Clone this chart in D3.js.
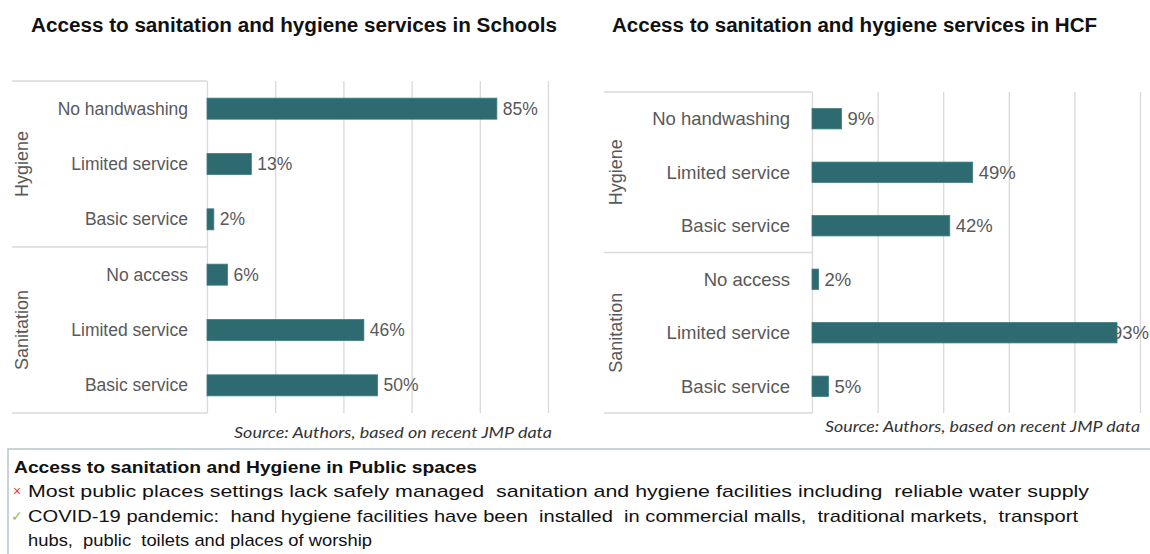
<!DOCTYPE html>
<html>
<head>
<meta charset="utf-8">
<script src="https://cdn.jsdelivr.net/npm/d3@7"></script>
<style>
  body { margin: 0; background: #fff; }
  svg { display: block; font-family: "Liberation Sans", Arial, sans-serif; }
</style>
</head>
<body>
<div id="chart"></div>
<script>
// data
const groups = ["Hygiene", "Sanitation"];
const categories = ["No handwashing", "Limited service", "Basic service", "No access", "Limited service", "Basic service"];
const categoryGroup = ["Hygiene", "Hygiene", "Hygiene", "Sanitation", "Sanitation", "Sanitation"];
const schoolsValues = [85, 13, 2, 6, 46, 50];
const hcfValues = [9, 49, 42, 2, 93, 5];
const xTicks = [0, 20, 40, 60, 80, 100];

const width = 1150, height = 554;
const barColor = "#2e6b70";
const gridColor = "#d9d9d9";
const textGray = "#595959";

const svg = d3.select("#chart").append("svg")
  .attr("width", width)
  .attr("height", height)
  .attr("viewBox", [0, 0, width, height]);

function drawChart(cfg, values) {
  const g = svg.append("g");

  const x = d3.scaleLinear([0, 100], [cfg.x0, cfg.x1]);
  const y = d3.scaleBand()
    .domain(d3.range(categories.length))
    .range([cfg.top, cfg.bottom])
    .paddingInner(0.62)
    .paddingOuter(0.31);

  // title
  g.append("text")
    .attr("x", cfg.titleX)
    .attr("y", 32)
    .attr("font-weight", "bold")
    .attr("font-size", 20)
    .attr("fill", "#111")
    .attr("textLength", cfg.titleLen)
    .attr("lengthAdjust", "spacingAndGlyphs")
    .text(cfg.title);

  // vertical gridlines
  const grid = g.append("g")
    .attr("transform", `translate(0,${cfg.bottom})`)
    .call(d3.axisBottom(x).tickValues(xTicks).tickSize(-(cfg.bottom - cfg.top)).tickFormat(""));
  grid.select(".domain").remove();
  grid.selectAll(".tick line").attr("stroke", gridColor).attr("stroke-width", 1.3);

  // multi-level category axis: group labels and separator lines
  const step = y.step();
  const gap = (step - y.bandwidth()) / 2;
  const bounds = [cfg.top];
  groups.forEach((grp, gi) => {
    const idx = categoryGroup.map((c, i) => c === grp ? i : -1).filter(i => i >= 0);
    const first = d3.min(idx), last = d3.max(idx);
    const y0 = gi === 0 ? cfg.top : y(first) - gap;
    const y1 = gi === groups.length - 1 ? cfg.bottom : y(last) + y.bandwidth() + gap;
    bounds.push(y1);
    g.append("text")
      .attr("transform", `translate(${cfg.groupX},${(y0 + y1) / 2}) rotate(-90)`)
      .attr("text-anchor", "middle")
      .attr("dy", "0.35em")
      .attr("font-size", 18)
      .attr("fill", textGray)
      .text(grp);
  });
  g.selectAll("line.sep")
    .data(bounds)
    .join("line")
    .attr("class", "sep")
    .attr("x1", cfg.lineLeft)
    .attr("x2", cfg.x0)
    .attr("y1", d => d)
    .attr("y2", d => d)
    .attr("stroke", gridColor)
    .attr("stroke-width", 1.3);

  // category labels
  g.selectAll("text.cat")
    .data(categories)
    .join("text")
    .attr("class", "cat")
    .attr("x", cfg.labelRight)
    .attr("y", (d, i) => y(i) + y.bandwidth() / 2)
    .attr("dy", "0.35em")
    .attr("text-anchor", "end")
    .attr("font-size", cfg.fontSize)
    .attr("fill", textGray)
    .text(d => d);

  // value labels (drawn under bars, like the clipped 93%)
  const labels = g.selectAll("text.val")
    .data(values)
    .join("text")
    .attr("class", "val")
    .attr("x", d => x(d) + 6)
    .attr("y", (d, i) => y(i) + y.bandwidth() / 2)
    .attr("dy", "0.35em")
    .attr("font-size", cfg.fontSize)
    .attr("fill", textGray)
    .text(d => d + "%");
  labels.each(function () {
    const b = this.getBBox();
    if (b.x + b.width > width - 1) {
      d3.select(this).attr("text-anchor", "end").attr("x", width - 1);
    }
  });

  // bars
  g.selectAll("rect.bar")
    .data(values)
    .join("rect")
    .attr("class", "bar")
    .attr("x", x(0))
    .attr("y", (d, i) => y(i))
    .attr("width", d => x(d) - x(0))
    .attr("height", y.bandwidth())
    .attr("fill", barColor)
    .attr("stroke", "#3f7c80")
    .attr("stroke-width", 0.8);

  // source
  g.append("text")
    .attr("x", cfg.sourceRight)
    .attr("y", cfg.sourceY)
    .attr("text-anchor", "end")
    .attr("font-style", "italic")
    .attr("font-family", "Lato, 'Open Sans', sans-serif")
    .attr("font-size", 15)
    .attr("fill", "#333")
    .attr("textLength", cfg.sourceLen)
    .attr("lengthAdjust", "spacingAndGlyphs")
    .text("Source: Authors, based on recent JMP data");
}

drawChart({
  title: "Access to sanitation and hygiene services in Schools",
  titleX: 31, titleLen: 526, x0: 207, x1: 548, top: 81, bottom: 413,
  lineLeft: 12, groupX: 22, labelRight: 188, fontSize: 17.5,
  sourceRight: 552, sourceY: 438, sourceLen: 318
}, schoolsValues);

drawChart({
  title: "Access to sanitation and hygiene services in HCF",
  titleX: 612, titleLen: 485, x0: 812, x1: 1140, top: 92, bottom: 413,
  lineLeft: 604, groupX: 616, labelRight: 790, fontSize: 18.5,
  sourceRight: 1140, sourceY: 432, sourceLen: 315
}, hcfValues);

// public spaces box
const notes = [
  { mark: "\u00d7", color: "#e8423a", lines: ["Most public places settings lack safely managed  sanitation and hygiene facilities including  reliable water supply"] },
  { mark: "\u2713", color: "#8cc152", lines: ["COVID-19 pandemic:  hand hygiene facilities have been  installed  in commercial malls,  traditional markets,  transport", "hubs,  public  toilets and places of worship"] }
];
const lineWidths = [1061, 1050, 344];

const box = svg.append("g");
box.append("rect")
  .attr("x", 8).attr("y", 449)
  .attr("width", width + 10).attr("height", 120)
  .attr("fill", "none")
  .attr("stroke", "#b7c8cb")
  .attr("stroke-width", 1.5);
box.append("text")
  .attr("x", 14).attr("y", 473)
  .attr("font-weight", "bold")
  .attr("font-size", 17)
  .attr("textLength", 463)
  .attr("lengthAdjust", "spacingAndGlyphs")
  .attr("fill", "#111")
  .text("Access to sanitation and Hygiene in Public spaces");

let row = 0;
notes.forEach(n => {
  box.append("text")
    .attr("x", 17).attr("y", 496 + row * 24.5)
    .attr("text-anchor", "middle")
    .attr("font-size", 14)
    .attr("fill", n.color)
    .text(n.mark);
  n.lines.forEach(l => {
    box.append("text")
      .attr("x", 28).attr("y", 497 + row * 24.5)
      .attr("font-size", 17)
      .attr("fill", "#111")
      .attr("textLength", lineWidths[row])
      .attr("lengthAdjust", "spacingAndGlyphs")
      .style("white-space", "pre")
      .text(l);
    row++;
  });
});
</script>
</body>
</html>
